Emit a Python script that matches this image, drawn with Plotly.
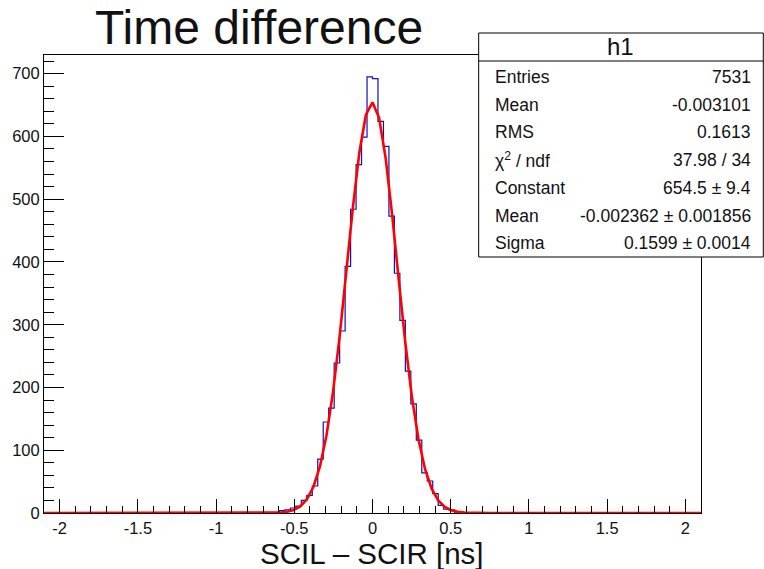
import numpy as np
import plotly.graph_objects as go

# ---------------- data ----------------
x_lo, x_hi, n_bins = -2.1, 2.1, 120
first_nonzero_bin = 43
nonzero_counts = [4, 5, 8, 11, 20, 28, 43, 86, 145, 167, 239, 290, 393, 484, 555, 599,
                  695, 692, 624, 584, 473, 382, 307, 226, 174, 116, 64, 51, 31, 12, 6, 5]
counts = ([0] * first_nonzero_bin + nonzero_counts
          + [0] * (n_bins - first_nonzero_bin - len(nonzero_counts)))

fit_constant, fit_mean, fit_sigma = 654.5, -0.002362, 0.1599
fit_npx = 100

stats_labels = ["Entries", "Mean", "RMS", "χ<sup>2</sup> / ndf", "Constant", "Mean", "Sigma"]
stats_values = ["7531", "-0.003101", "0.1613", "37.98 / 34", "654.5 ± 9.4",
                "-0.002362 ± 0.001856", "0.1599 ± 0.0014"]

x_tickvals = [-2, -1.5, -1, -0.5, 0, 0.5, 1, 1.5, 2]
x_ticktext = ["-2", "-1.5", "-1", "-0.5", "0", "0.5", "1", "1.5", "2"]
y_tickvals = [0, 100, 200, 300, 400, 500, 600, 700]

# ---------------- layout geometry ----------------
W, H = 764, 569
L, R, T, B = 42, 701, 55, 513
FONT = "Liberation Sans, Arial, Helvetica, sans-serif"

def px(xp):
    return (xp - L) / (R - L)

def py(yp):
    return (B - yp) / (B - T)

edges = np.linspace(x_lo, x_hi, n_bins + 1)
y_max = 1.05 * max(counts)

fig = go.Figure()
fig.add_trace(go.Scatter(
    x=edges, y=counts + [counts[-1]], mode="lines", line_shape="hv",
    line=dict(color="#1010b8", width=1.2), hoverinfo="skip", showlegend=False))

xf = np.linspace(x_lo, x_hi, fit_npx + 1)
yf = fit_constant * np.exp(-0.5 * ((xf - fit_mean) / fit_sigma) ** 2)
fig.add_trace(go.Scatter(
    x=xf, y=yf, mode="lines", line=dict(color="#ff0000", width=2.6),
    hoverinfo="skip", showlegend=False))

axis_common = dict(showgrid=False, zeroline=False, showline=True, linecolor="#000000",
                   linewidth=1, mirror=True, ticks="inside", tickcolor="#000000",
                   tickfont=dict(family=FONT, size=16.5, color="#111111"))

fig.update_xaxes(range=[x_lo, x_hi], tickvals=x_tickvals, ticktext=x_ticktext,
                 ticklen=14, tickwidth=1,
                 minor=dict(dtick=0.1, tick0=0, ticks="inside", ticklen=7,
                            tickcolor="#000000", tickwidth=1),
                 **axis_common)
fig.update_yaxes(range=[0, y_max], tickvals=y_tickvals, ticklen=20, tickwidth=1,
                 minor=dict(dtick=20, tick0=0, ticks="inside", ticklen=10,
                            tickcolor="#000000", tickwidth=1),
                 **axis_common)

fig.update_layout(width=W, height=H, margin=dict(l=L, r=W - R, t=T, b=H - B),
                  paper_bgcolor="white", plot_bgcolor="white",
                  font=dict(family=FONT, color="#000000"))

ann = []
ann.append(dict(text="Time difference", x=px(91), y=py(27), xref="paper", yref="paper",
                xanchor="left", yanchor="middle", showarrow=False,
                font=dict(family=FONT, size=48, color="#111111")))
ann.append(dict(text="SCIL – SCIR [ns]", x=px(371), y=py(553), xref="paper", yref="paper",
                xanchor="center", yanchor="middle", showarrow=False,
                font=dict(family=FONT, size=29.5, color="#111111")))

# stats box
bx0, bx1, by0, by1, bhead = 478, 763.5, 33, 257, 61
shapes = [
    dict(type="rect", xref="paper", yref="paper", x0=px(bx0), x1=px(bx1),
         y0=py(by1), y1=py(by0), line=dict(color="#000000", width=1), fillcolor="white",
         layer="above"),
    dict(type="line", xref="paper", yref="paper", x0=px(bx0), x1=px(bx1),
         y0=py(bhead), y1=py(bhead), line=dict(color="#000000", width=1), layer="above"),
]
ann.append(dict(text="h1", x=px((bx0 + bx1) / 2), y=py(47), xref="paper", yref="paper",
                xanchor="center", yanchor="middle", showarrow=False,
                font=dict(family=FONT, size=24, color="#111111")))
row_y0, row_dy = 77, 27.7
for i, (lab, val) in enumerate(zip(stats_labels, stats_values)):
    yy = row_y0 + i * row_dy
    ann.append(dict(text=lab, x=px(492), y=py(yy), xref="paper", yref="paper",
                    xanchor="left", yanchor="middle", showarrow=False,
                    font=dict(family=FONT, size=17.5, color="#111111")))
    ann.append(dict(text=val, x=px(753), y=py(yy), xref="paper", yref="paper",
                    xanchor="right", yanchor="middle", showarrow=False,
                    font=dict(family=FONT, size=17.5, color="#111111")))

fig.update_layout(annotations=ann, shapes=shapes)
fig.write_html("out.html")
